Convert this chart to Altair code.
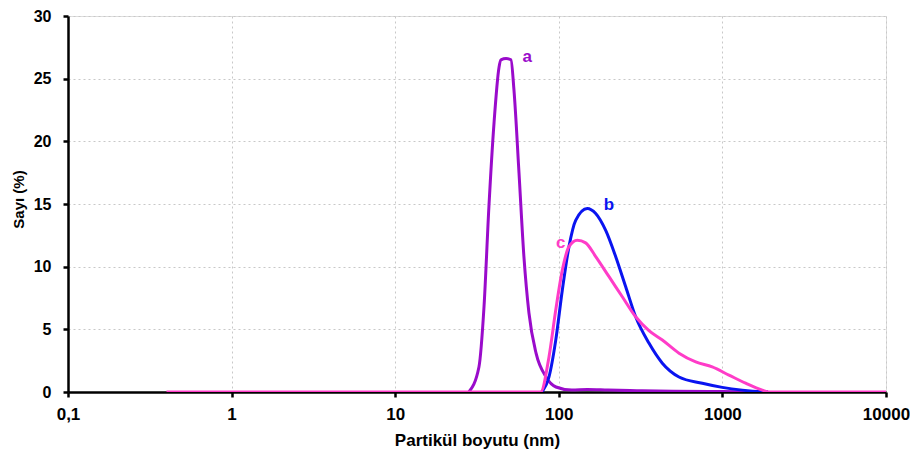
import altair as alt
import pandas as pd

# Series a (purple)
a_x = [28.2, 32.5, 34.9, 37.4, 40.2, 43.1, 44.3, 47.6, 51.0, 53.2, 57.1, 61.2, 65.7, 72.6, 83.6, 96.1, 120, 150, 200, 300, 500, 1000, 1500, 1900]
a_y = [0, 2.0, 6.8, 14.8, 21.5, 25.9, 26.5, 26.6, 26.5, 24.1, 17.5, 10.8, 6.3, 3.1, 1.2, 0.4, 0.15, 0.2, 0.15, 0.1, 0.05, 0.03, 0.01, 0]

# Series b (blue)
b_x = [78.9, 87.1, 95.7, 105, 115.4, 126.8, 149.3, 168.1, 193.5, 222.8, 256.4, 295, 355.6, 429.4, 543, 754, 998, 1324, 1746, 1900]
b_y = [0, 1.2, 4.1, 8.1, 11.6, 13.7, 14.65, 14.25, 12.9, 10.8, 8.4, 6.0, 3.9, 2.3, 1.2, 0.7, 0.37, 0.15, 0.02, 0]

# Series c (magenta)
c_x = [0.4, 10, 77.4, 87.1, 95.7, 105, 115.4, 129.7, 145.9, 168.1, 202.8, 244.4, 295, 355.6, 429.4, 543, 687, 867, 1096, 1387, 1754, 1928, 10000]
c_y = [0, 0, 0, 2.8, 6.5, 9.7, 11.6, 12.1, 11.9, 10.8, 9.2, 7.6, 6.0, 4.9, 4.15, 3.1, 2.4, 2.0, 1.35, 0.7, 0.15, 0, 0]

labels = ["a", "b", "c"]
label_x = [60, 188, 96]
label_y = [26.7, 14.9, 11.9]
colors = ["#9A0BCB", "#0A14F0", "#FF3CC8"]

x_ticks = [0.1, 1, 10, 100, 1000, 10000]
y_ticks = [0, 5, 10, 15, 20, 25, 30]

xs = alt.Scale(type="log", domain=[0.1, 10000])
ys = alt.Scale(domain=[0, 30])

FONT = "Liberation Sans"

x_axis = alt.Axis(
    values=x_ticks,
    labelExpr="replace(toString(datum.value), '.', ',')",
    title="Partikül boyutu (nm)",
    grid=True, gridColor="#C8C8C8", gridDash=[2, 3], gridWidth=1,
    domainColor="black", domainWidth=2.5,
    tickColor="black", tickSize=5, tickWidth=2.5,
    labelFont=FONT, labelFontSize=17, labelFontWeight="bold", labelColor="black",
    labelPadding=9,
    titleFont=FONT, titleFontSize=17, titleFontWeight="bold", titleColor="black",
    titlePadding=10,
    labelFlush=False,
)
y_axis = alt.Axis(
    values=y_ticks,
    title="Sayı (%)",
    grid=True, gridColor="#C8C8C8", gridDash=[2, 3], gridWidth=1,
    domainColor="black", domainWidth=2.5,
    tickColor="black", tickSize=5, tickWidth=2.5,
    labelFont=FONT, labelFontSize=16, labelFontWeight="bold", labelColor="black",
    labelPadding=12,
    titleFont=FONT, titleFontSize=15, titleFontWeight="bold", titleColor="black",
    titlePadding=7,
    titleY=183,
)

def series(xv, yv, color):
    df = pd.DataFrame({"x": xv, "y": yv})
    return alt.Chart(df).mark_line(color=color, strokeWidth=3, interpolate="monotone", clip=True).encode(
        x=alt.X("x:Q", scale=xs, axis=x_axis),
        y=alt.Y("y:Q", scale=ys, axis=y_axis),
    )

la = series(a_x, a_y, colors[0])
lb = series(b_x, b_y, colors[1])
lc = series(c_x, c_y, colors[2])

lab_df = pd.DataFrame({"x": label_x, "y": label_y, "t": labels, "c": colors})
text = alt.Chart(lab_df).mark_text(
    font=FONT, fontSize=17, fontWeight="bold", align="left", baseline="middle"
).encode(
    x=alt.X("x:Q", scale=xs, axis=x_axis),
    y=alt.Y("y:Q", scale=ys, axis=y_axis),
    text="t:N",
    color=alt.Color("c:N", scale=None),
)

chart = alt.layer(la, lb, lc, text).properties(
    width=818, height=376,
    autosize=alt.AutoSizeParams(type="none"),
    padding={"left": 60, "top": 8, "right": 24, "bottom": 57},
).configure_view(stroke=None).configure(background="white")

chart.save("out.html", embed_options={"renderer": "svg", "actions": False})
